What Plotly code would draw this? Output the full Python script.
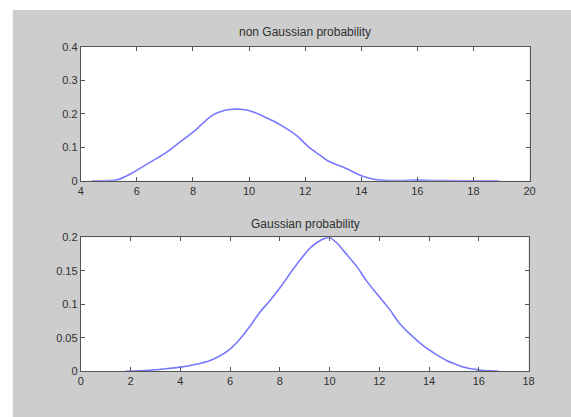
import plotly.graph_objects as go

# ---- data ----
top_title = "non Gaussian probability"
top_x = [4.4, 5.0, 5.3, 5.8, 6.4, 7.0, 7.5, 8.1, 8.3, 8.7, 9.0, 9.3, 9.6, 9.8,
         10.1, 10.5, 10.9, 11.35, 11.7, 12.1, 12.5, 12.8, 13.4, 13.9, 14.2,
         14.5, 15.0, 15.5, 16.0, 16.5, 17.0, 18.0, 18.9]
top_y = [0.0, 0.0005, 0.003, 0.022, 0.052, 0.082, 0.113, 0.152, 0.168, 0.196,
         0.207, 0.213, 0.214, 0.213, 0.207, 0.193, 0.177, 0.155, 0.135, 0.103,
         0.078, 0.060, 0.039, 0.019, 0.010, 0.004, 0.001, 0.001, 0.002, 0.001,
         0.001, 0.0, 0.0]

bot_title = "Gaussian probability"
bot_x = [1.8, 2.8, 3.5, 4.0, 4.6, 5.2, 5.6, 6.0, 6.4, 6.8, 7.2, 7.6, 8.0, 8.4,
         8.8, 9.2, 9.5, 9.8, 10.0, 10.3, 10.6, 11.1, 11.5, 12.0, 12.4, 12.8,
         13.3, 13.8, 14.2, 14.7, 15.1, 15.5, 16.1, 16.5, 16.8]
bot_y = [0.0, 0.0014, 0.004, 0.006, 0.010, 0.016, 0.023, 0.033, 0.048, 0.067,
         0.088, 0.105, 0.124, 0.145, 0.165, 0.183, 0.192, 0.198, 0.1995, 0.191,
         0.178, 0.156, 0.134, 0.111, 0.093, 0.072, 0.053, 0.037, 0.027, 0.016,
         0.010, 0.005, 0.0014, 0.0005, 0.0]

top_xrange = [4, 20]
top_yrange = [0, 0.4]
bot_xrange = [0, 18]
bot_yrange = [0, 0.2]

W, H = 571, 417
LINE = "#7878ff"
AX = "#555555"
FAM = "Liberation Sans, Arial, sans-serif"
FONT = dict(family=FAM, size=11, color="#303030")

fig = go.Figure()
fig.add_trace(go.Scatter(x=top_x, y=top_y, mode="lines", line=dict(color=LINE, width=1.6),
                         xaxis="x", yaxis="y", showlegend=False, line_shape="spline"))
fig.add_trace(go.Scatter(x=bot_x, y=bot_y, mode="lines", line=dict(color=LINE, width=1.6),
                         xaxis="x2", yaxis="y2", showlegend=False, line_shape="spline"))

def ax(rng, dtick, dom, anchor):
    return dict(range=rng, dtick=dtick, domain=dom, anchor=anchor, showgrid=False,
                zeroline=False, showline=True, linecolor=AX, linewidth=1, mirror="ticks",
                ticks="inside", ticklen=4, tickcolor=AX, tickfont=FONT, fixedrange=True)

fig.update_layout(
    width=W, height=H, margin=dict(l=0, r=0, t=0, b=0),
    paper_bgcolor="white", plot_bgcolor="white",
    xaxis=ax(top_xrange, 2, [79 / W, 535 / W], "y"),
    yaxis=ax(top_yrange, 0.1, [(H - 180) / H, (H - 42) / H], "x"),
    xaxis2=ax(bot_xrange, 2, [79 / W, 534 / W], "y2"),
    yaxis2=ax(bot_yrange, 0.05, [(H - 376) / H, (H - 238) / H], "x2"),
    shapes=[
        dict(type="rect", xref="paper", yref="paper", x0=10 / W, x1=1.02, y0=-0.02,
             y1=(H - 4) / H, fillcolor="#cdcdcd", line=dict(width=0), layer="below"),
        dict(type="rect", xref="x domain", yref="y domain", x0=0, x1=1, y0=0, y1=1,
             fillcolor="white", line=dict(width=0), layer="below"),
        dict(type="rect", xref="x2 domain", yref="y2 domain", x0=0, x1=1, y0=0, y1=1,
             fillcolor="white", line=dict(width=0), layer="below"),
    ],
    annotations=[
        dict(text=top_title, xref="paper", yref="paper", x=307 / W, y=(H - 27) / H,
             yanchor="middle", showarrow=False,
             font=dict(family=FAM, size=12, color="#303030")),
        dict(text=bot_title, xref="paper", yref="paper", x=307 / W, y=(H - 224) / H,
             yanchor="middle", showarrow=False,
             font=dict(family=FAM, size=12, color="#303030")),
    ],
)

fig.write_html("out.html")
